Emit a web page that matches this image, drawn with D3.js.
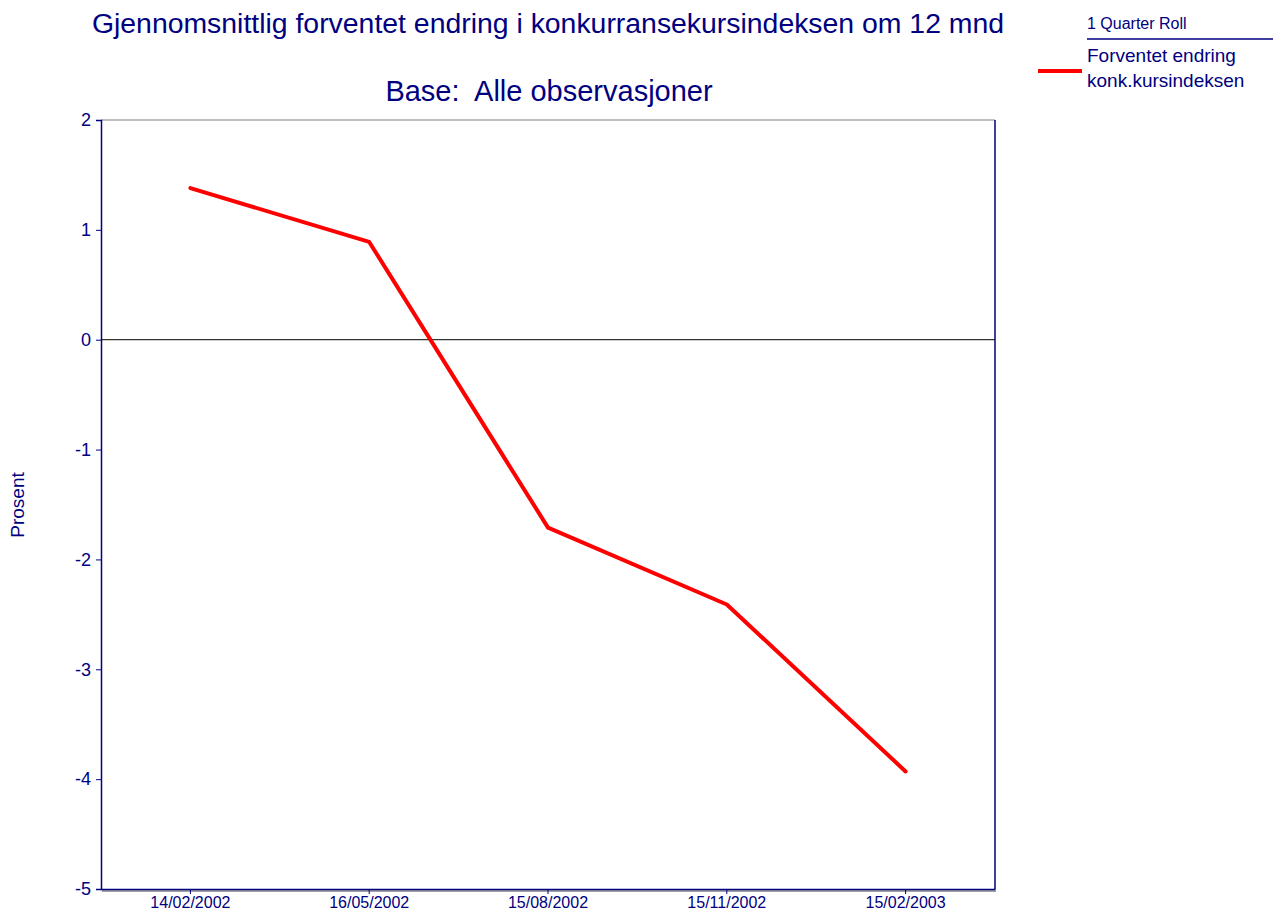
<!DOCTYPE html>
<html><head><meta charset="utf-8">
<script src="https://cdn.jsdelivr.net/npm/d3@7"></script>
<style>body{margin:0;background:#fff;} text{font-family:"Liberation Sans",Arial,sans-serif;white-space:pre;}</style>
</head><body>
<svg id="c" width="1273" height="914"></svg>
<script>
const categories = ["14/02/2002","16/05/2002","15/08/2002","15/11/2002","15/02/2003"];
const values = [1.38, 0.89, -1.71, -2.41, -3.93];
const yTicks = [2,1,0,-1,-2,-3,-4,-5];
const seriesName = ["Forventet endring","konk.kursindeksen"];

const navy = "#000080";
const svg = d3.select("#c");
const L=101, R=995, T=120, B=889;
const x = d3.scaleBand().domain(categories).range([L,R]);
const y = d3.scaleLinear().domain([-5,2]).range([B,T]);

// frame
svg.append("line").attr("x1",L).attr("x2",R).attr("y1",T).attr("y2",T).attr("stroke","#808080").attr("stroke-width",1);
svg.append("line").attr("x1",L+1).attr("x2",R+1).attr("y1",B+2).attr("y2",B+2).attr("stroke","#808080").attr("stroke-width",1.5);
svg.append("line").attr("x1",R).attr("x2",R).attr("y1",T).attr("y2",B).attr("stroke",navy).attr("stroke-width",1.5);

// axes
const ya = svg.append("g").attr("transform",`translate(${L},0)`)
  .call(d3.axisLeft(y).tickValues(yTicks).tickSize(5).tickPadding(5).tickFormat(d=>String(d)));
ya.select(".domain").attr("stroke",navy).attr("stroke-width",1.5);
ya.selectAll(".tick line").attr("stroke",navy);
ya.selectAll(".tick text").attr("fill",navy).attr("font-size",18).attr("font-family","Liberation Sans, Arial, sans-serif");

const xa = svg.append("g").attr("transform",`translate(0,${B})`)
  .call(d3.axisBottom(x).tickSize(5).tickPadding(3).tickSizeOuter(0));
xa.select(".domain").attr("stroke",navy).attr("stroke-width",1.5);
xa.selectAll(".tick line").attr("stroke",navy);
xa.selectAll(".tick text").attr("fill",navy).attr("font-size",16).attr("font-family","Liberation Sans, Arial, sans-serif");

// zero line
svg.append("line").attr("x1",L).attr("x2",R).attr("y1",y(0)).attr("y2",y(0)).attr("stroke","#000").attr("stroke-width",1);

// series
const line = d3.line().x((d,i)=>x(categories[i])+x.bandwidth()/2).y(d=>y(d));
svg.append("path").datum(values).attr("d",line).attr("fill","none").attr("stroke","#ff0000")
  .attr("stroke-width",4).attr("stroke-linejoin","round").attr("stroke-linecap","round");

// titles
svg.append("text").attr("x",548).attr("y",33).attr("text-anchor","middle").attr("fill",navy).attr("font-size",28.4)
  .text("Gjennomsnittlig forventet endring i konkurransekursindeksen om 12 mnd");
svg.append("text").attr("x",549).attr("y",101).attr("text-anchor","middle").attr("fill",navy).attr("font-size",29)
  .text("Base:  Alle observasjoner");
svg.append("text").attr("transform","translate(24,505) rotate(-90)").attr("text-anchor","middle").attr("fill",navy).attr("font-size",19)
  .text("Prosent");

// legend
svg.append("text").attr("x",1087).attr("y",29).attr("fill",navy).attr("font-size",16).text("1 Quarter Roll");
svg.append("line").attr("x1",1087).attr("x2",1273).attr("y1",39).attr("y2",39).attr("stroke",navy).attr("stroke-width",1.5);
svg.append("text").attr("x",1087).attr("y",62).attr("fill",navy).attr("font-size",19).text(seriesName[0]);
svg.append("text").attr("x",1087).attr("y",87).attr("fill",navy).attr("font-size",19).text(seriesName[1]);
svg.append("line").attr("x1",1038).attr("x2",1082).attr("y1",71).attr("y2",71).attr("stroke","#ff0000").attr("stroke-width",4);
</script>
</body></html>
